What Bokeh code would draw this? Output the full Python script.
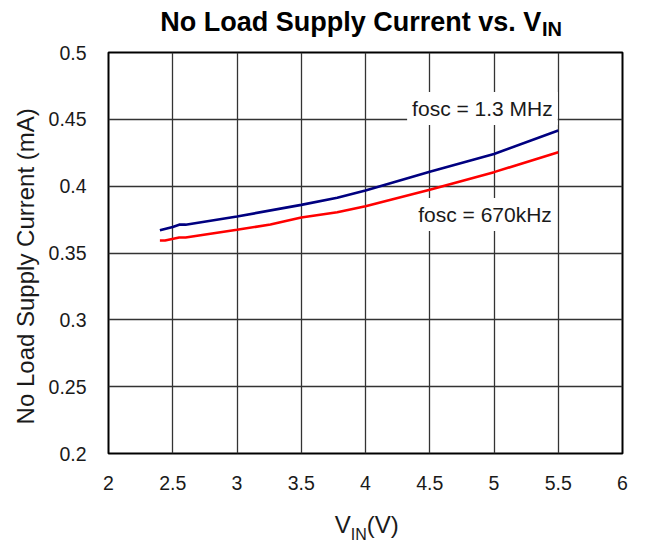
from bokeh.plotting import figure
from bokeh.layouts import column
from bokeh.models import Label, FixedTicker, Range1d
from bokeh.embed import file_html
from bokeh.resources import INLINE

# ---- texts ----
title_main = "No Load Supply Current vs. V"
title_sub = "IN"
x_label_main = "V"
x_label_sub = "IN"
x_label_tail = "(V)"
y_label = "No Load Supply Current (mA)"
series_names = ["fosc = 1.3 MHz", "fosc = 670kHz"]

# ---- ticks ----
x_ticks = [2, 2.5, 3, 3.5, 4, 4.5, 5, 5.5, 6]
x_tick_labels = ["2", "2.5", "3", "3.5", "4", "4.5", "5", "5.5", "6"]
y_ticks = [0.2, 0.25, 0.3, 0.35, 0.4, 0.45, 0.5]
y_tick_labels = ["0.2", "0.25", "0.3", "0.35", "0.4", "0.45", "0.5"]

# ---- data ----
vin_1p3 = [2.40, 2.50, 2.55, 2.60, 3.00, 3.50, 3.78, 4.00, 4.50, 5.00, 5.50]
iq_1p3 = [0.3670, 0.3695, 0.3712, 0.3712, 0.3773, 0.3860, 0.3913, 0.3968, 0.4107, 0.4240, 0.4416]
vin_670 = [2.40, 2.44, 2.55, 2.60, 3.00, 3.26, 3.50, 3.78, 4.00, 4.50, 5.00, 5.50]
iq_670 = [0.3594, 0.3594, 0.3616, 0.3616, 0.3674, 0.3713, 0.3766, 0.3805, 0.3850, 0.3973, 0.4105, 0.4253]

FONT = "Liberation Sans"
TXT = "#1a1a1a"
W = 645


def text_strip(height):
    f = figure(width=W, height=height, x_range=Range1d(0, W), y_range=Range1d(0, height),
               x_axis_type=None, y_axis_type=None, output_backend="svg", toolbar_location=None,
               min_border=0, title=None)
    f.outline_line_color = None
    f.background_fill_color = "white"
    f.border_fill_color = "white"
    return f


def piece(fig, x, y, text, size, align, bold=False, color=TXT):
    fig.add_layout(Label(x=x, y=y, text=text, text_align=align, text_baseline="middle",
                         text_font=FONT, text_font_size=size, text_color=color,
                         text_font_style="bold" if bold else "normal"))


# ---- title strip (real text with subscript) ----
t = text_strip(40)
piece(t, 543, 19.0, title_main, "27px", "right", bold=True, color="black")
piece(t, 544, 12.0, title_sub, "20px", "left", bold=True, color="black")

# ---- main chart ----
p = figure(width=W, height=460, x_range=Range1d(2, 6), y_range=Range1d(0.2, 0.5),
           output_backend="svg", toolbar_location=None, title=None,
           min_border_left=108, min_border_right=23, min_border_top=12, min_border_bottom=47)
p.background_fill_color = "white"
p.border_fill_color = "white"
p.outline_line_color = "black"
p.outline_line_width = 2

for ax, ticks, labels in ((p.xaxis, x_ticks, x_tick_labels), (p.yaxis, y_ticks, y_tick_labels)):
    ax.ticker = FixedTicker(ticks=ticks)
    ax.major_label_overrides = {tk: lb for tk, lb in zip(ticks, labels)}
    ax.axis_line_color = None
    ax.major_tick_line_color = None
    ax.minor_tick_line_color = None
    ax.major_label_text_font = FONT
    ax.major_label_text_font_size = "19.5px"
    ax.major_label_text_color = TXT

p.xaxis.major_label_standoff = 16
p.yaxis.major_label_standoff = 16
# trailing no-break spaces nudge the centred label toward the bottom, as in the reference
p.yaxis.axis_label = y_label + "\u00a0" * 4
p.yaxis.axis_label_text_font = FONT
p.yaxis.axis_label_text_font_size = "24px"
p.yaxis.axis_label_text_font_style = "normal"
p.yaxis.axis_label_text_color = TXT
p.yaxis.axis_label_standoff = 7

p.xgrid.ticker = FixedTicker(ticks=x_ticks)
p.ygrid.ticker = FixedTicker(ticks=y_ticks)
for g in (p.xgrid, p.ygrid):
    g.grid_line_color = "#333333"
    g.grid_line_width = 1.3

p.line(vin_1p3, iq_1p3, line_color="#000080", line_width=2.6)
p.line(vin_670, iq_670, line_color="#ff0000", line_width=2.6)

for (lx, ly), name in zip(((4.91, 0.4581), (4.93, 0.3788)), series_names):
    p.add_layout(Label(x=lx, y=ly, text=name, text_align="center", text_baseline="middle",
                       text_font=FONT, text_font_size="21px", text_color=TXT,
                       background_fill_color="white", padding=5))

# ---- x-axis title strip (real text with subscript) ----
b = text_strip(43)
piece(b, 304, 19.3, x_label_main, "24px", "right")
piece(b, 304, 8.7, x_label_sub, "16px", "left")
piece(b, 324, 19.3, x_label_tail, "24px", "left")

layout = column(t, p, b, spacing=0)
open("out.html", "w").write(file_html(layout, INLINE))
